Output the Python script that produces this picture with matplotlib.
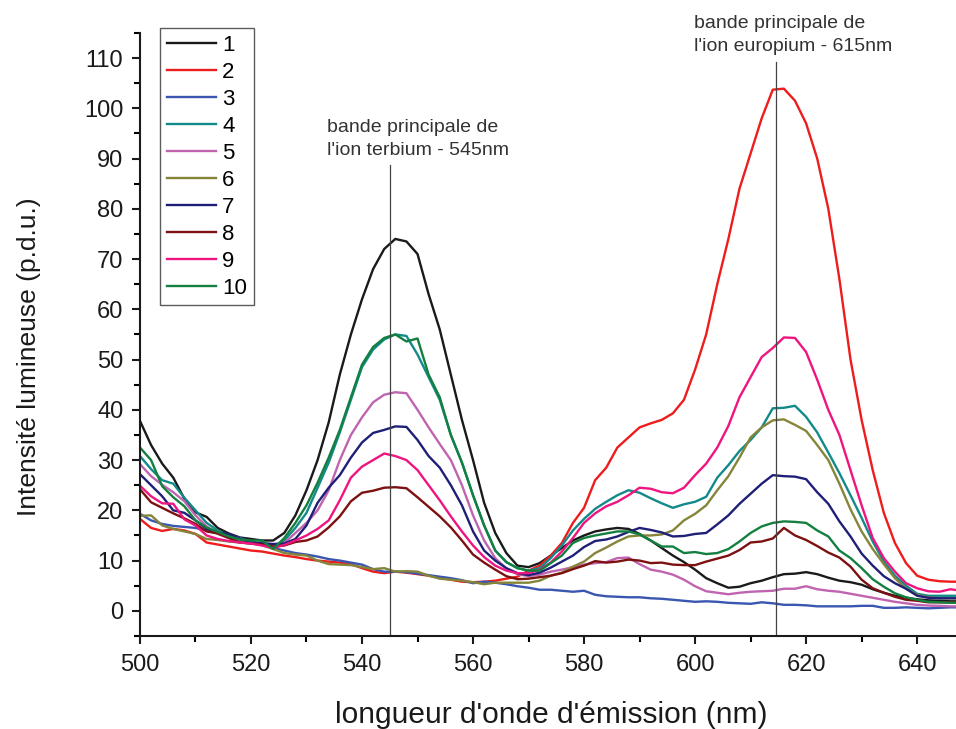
import numpy as np
import matplotlib
matplotlib.use('Agg')
import matplotlib.pyplot as plt
from matplotlib.ticker import MultipleLocator

plt.rcParams['font.family'] = ['Liberation Sans', 'DejaVu Sans']

# longueurs d'onde (nm), pas de 2 nm
wl = list(range(500, 650, 2))

s1 = [37.8, 33, 29.3, 26.5, 22.3, 19.6, 18.7, 16.5, 15.4, 14.6,
      14.3, 14.0, 14.0, 15.5, 19, 24, 30, 37.5, 47, 55,
      62, 68, 72, 74, 73.5, 71, 63, 56, 47, 38,
      30, 21.5, 15.5, 11.5, 9, 8.7, 9.5, 11, 12.5, 14,
      15, 15.8, 16.2, 16.5, 16.3, 15.3, 14, 12.5, 11, 9.7,
      8.2, 6.5, 5.5, 4.6, 4.8, 5.5, 6, 6.7, 7.3, 7.4,
      7.7, 7.3, 6.6, 6, 5.7, 5.2, 4.3, 3.6, 3, 2.6,
      2.3, 2.1, 2, 1.9, 1.9]
s2 = [18.3, 16.5, 15.9, 16.3, 16, 15.3, 13.6, 13.2, 12.8, 12.4,
      12, 11.8, 11.4, 11, 10.7, 10.3, 10, 9.8, 9.6, 9.3,
      8.5, 7.8, 7.5, 7.8, 7.6, 7.3, 7, 6.6, 6.2, 5.8,
      5.7, 5.8, 6, 6.4, 6.8, 8, 9, 11, 13.5, 17.5,
      20.5, 26, 28.5, 32.5, 34.5, 36.5, 37.3, 38, 39.3, 42,
      48, 55, 65, 74, 84, 91, 98, 103.7, 103.9, 101.5,
      97, 90, 80, 66, 50, 38, 28, 19.5, 13.5, 9.5,
      7, 6.2, 5.9, 5.8, 5.8]
s3 = [19.3, 18, 17.3, 16.9, 16.7, 16.5, 16, 15.5, 15, 14.5,
      13.8, 13.2, 12.5, 12, 11.5, 11.2, 10.8, 10.3, 10, 9.6,
      9.2, 8.3, 7.8, 7.8, 7.7, 7.4, 7.1, 6.8, 6.5, 6.1,
      5.5, 5.8, 5.6, 5.3, 4.9, 4.6, 4.2, 4.2, 4, 3.8,
      4, 3.2, 2.9, 2.8, 2.7, 2.7, 2.5, 2.4, 2.2, 2,
      1.8, 1.9, 1.8, 1.6, 1.5, 1.4, 1.7, 1.5, 1.2, 1.2,
      1.1, 0.9, 0.9, 0.9, 0.9, 1, 1, 0.6, 0.6, 0.7,
      0.6, 0.5, 0.6, 0.7, 0.7]
s4 = [30.8, 28.2, 26, 25.3, 22.5, 20, 17.5, 16, 15, 14.3,
      13.7, 13.3, 12.8, 14, 16.5, 19.5, 24.5, 29.5, 35.5, 42,
      48.5, 52, 54, 55, 54.7, 51, 46.5, 42, 35, 29.5,
      23, 17, 12, 9.7, 8.5, 8, 8.5, 10.5, 13, 16,
      18.3, 20.3, 21.7, 23, 24, 23.5, 22.4, 21.4, 20.5, 21.2,
      21.7, 22.7, 26.5, 29, 31.8, 34, 36.5, 40.3, 40.4, 40.8,
      38.6, 35.5, 31.5, 27.4, 23, 18.5, 13.8, 9.8, 7, 5,
      3.4, 3, 3, 3, 3]
s5 = [29.2, 26.8, 25.1, 23.6, 21.8, 19, 16.8, 15.3, 14.5, 14,
      13.5, 13.1, 12.8, 13.5, 15.5, 17.5, 20, 24, 30, 35,
      38.5, 41.5, 43, 43.5, 43.3, 40, 36.5, 33.2, 30, 25,
      19, 14, 10.5, 8.4, 7.3, 6.9, 7.2, 7.8, 8.2, 8.7,
      9.2, 9.5, 9.7, 10.5, 10.6, 9.3, 8.2, 7.8, 7.2, 6.2,
      4.9, 3.9, 3.6, 3.3, 3.6, 3.8, 3.9, 4, 4.4, 4.4,
      4.9, 4.3, 4, 3.8, 3.4, 3, 2.6, 2.2, 1.8, 1.5,
      1.2, 1.05, 1, 0.9, 0.9]
s6 = [18.9, 19, 17, 16.3, 15.8, 15.3, 14.3, 14.1, 13.8, 13.6,
      13.4, 13.1, 12.3, 11.5, 11.2, 11, 10, 9.3, 9.2, 9.1,
      8.7, 8.3, 8.5, 7.8, 7.9, 7.8, 7, 6.4, 6.2, 6,
      5.7, 5.3, 5.6, 5.6, 5.6, 5.6, 6, 7, 7.6, 8.8,
      9.8, 11.5, 12.6, 13.8, 14.8, 15, 15, 15.2, 16, 18,
      19.3, 21, 24, 26.8, 30.5, 34.5, 36.5, 37.9, 38.1, 37,
      35.8, 33, 30, 25.3, 20.2, 15.8, 12.3, 9.3, 6.5, 4.4,
      3.2, 2.7, 2.5, 2.5, 2.5]
s7 = [27.2, 25, 22.8, 20, 19.5, 18, 16.3, 15.6, 15.3, 14.3,
      13.6, 13.5, 13.3, 13.4, 14.3, 17, 21.5, 24.5, 27, 30.5,
      33.5, 35.4, 36, 36.7, 36.6, 34, 30.8, 28.5, 25, 21,
      15.8, 12, 10, 8.5, 7.5, 7.1, 7.6, 8.6, 9.8, 11,
      12.7, 13.9, 14.2, 14.8, 15.7, 16.5, 16.1, 15.6, 14.8, 14.9,
      15.3, 15.5, 17.2, 19, 21.3, 23.3, 25.3, 27, 26.8, 26.7,
      26.2, 23.6, 21.3, 17.8, 14.8, 11.4, 9, 6.9, 5.5, 4.4,
      3, 2.6, 2.5, 2.5, 2.5]
s8 = [24.2, 21.6, 20.5, 19.4, 18.4, 17.3, 15.8, 15.4, 14.5, 13.6,
      13.4, 13.2, 12.8, 13, 13.7, 14, 14.8, 16.6, 18.8, 21.8,
      23.5, 23.9, 24.5, 24.6, 24.4, 22.6, 20.7, 18.8, 16.6, 14,
      11.2, 9.6, 8.2, 6.9, 6.3, 6.4, 6.7, 7, 7.5, 8.3,
      9, 9.9, 9.6, 9.8, 10.2, 10, 9.5, 9.6, 9.2, 9.1,
      9.1, 9.8, 10.4, 11, 12.1, 13.6, 13.8, 14.4, 16.5, 15,
      14.1, 12.9, 11.6, 10.6, 8.8, 6.2, 4.5, 3.6, 2.8, 2.2,
      2, 1.7, 1.7, 1.7, 1.7]
s9 = [24.9, 22.8, 21.4, 21.3, 18.2, 17, 15, 14.3, 13.9, 13.6,
      13.4, 13, 12.5, 13.1, 14, 15, 16.3, 18, 22, 26.5,
      28.7, 30, 31.3, 30.8, 30, 28, 25, 22, 18.8, 15.8,
      13, 10.7, 9, 8, 7.5, 7.5, 8.2, 9.6, 11.8, 14.5,
      17.5, 19.4, 20.8, 21.7, 23, 24.5, 24.3, 23.6, 23.4, 24.5,
      27, 29.3, 32.5, 36.8, 42.5, 46.5, 50.5, 52.3, 54.4, 54.3,
      51.5, 46, 40, 35, 28, 21, 14.5, 10.5, 7.8, 5.5,
      4.5, 3.9, 3.8, 4.3, 4]
s10 = [32.5, 30, 24.8, 22.6, 20.8, 18, 16.6, 15.7, 14.8, 14.2,
       14, 14, 12.3, 14.5, 17.5, 21, 25.5, 30.5, 36, 42.5,
       49, 52.5, 54.3, 55, 53.6, 54.2, 47, 42.5, 35, 29.5,
       23, 17, 12, 9.7, 8.5, 8, 8, 9.5, 11, 13.5,
       14.5, 15, 15.4, 15.8, 15.8, 15.2, 14, 12.8, 12.8, 11.5,
       11.7, 11.3, 11.5, 12.3, 13.8, 15.5, 16.8, 17.5, 17.8, 17.7,
       17.5, 16, 14.8, 12, 10.5, 8.5, 6.3, 4.8, 3.5, 2.7,
       2.2, 1.8, 1.7, 1.6, 1.6]

series = [s1, s2, s3, s4, s5, s6, s7, s8, s9, s10]
labels = ['1', '2', '3', '4', '5', '6', '7', '8', '9', '10']
colors = ['#1a1a1a', '#ee1c1c', '#3a56b0', '#138a8a', '#c064b0',
          '#85853a', '#1f1f78', '#7d1010', '#ef1580', '#138040']

tb_line = 545.0
eu_line = 614.6

fig = plt.figure(figsize=(9.56, 7.29), dpi=100)
ax = fig.add_axes([0.1464, 0.1276, 0.871, 0.8273])

for s, lab, c in zip(series, labels, colors):
    ax.plot(wl, s, color=c, lw=1.7, label=lab)

ax.plot([tb_line, tb_line], [-5, 88.8], color='#444444', lw=0.9)
ax.plot([eu_line, eu_line], [-5, 109.2], color='#444444', lw=0.9)
ax.text(533.7, 90.0, "bande principale de\nl'ion terbium - 545nm",
        fontsize=14, color='#333333', va='bottom', ha='left', linespacing=1.45)
ax.text(599.8, 110.6, "bande principale de\nl'ion europium - 615nm",
        fontsize=14, color='#333333', va='bottom', ha='left', linespacing=1.45,
        clip_on=False)

ax.set_xlim(500, 650)
ax.set_ylim(-5, 115)
ax.xaxis.set_major_locator(MultipleLocator(20))
ax.xaxis.set_minor_locator(MultipleLocator(10))
ax.yaxis.set_major_locator(MultipleLocator(10))
ax.yaxis.set_minor_locator(MultipleLocator(5))
ax.set_yticks(range(0, 111, 10))
ax.tick_params(which='major', direction='out', length=6, width=1.5,
               labelsize=17, colors='#1a1a1a')
ax.tick_params(axis='x', which='major', pad=7)
ax.tick_params(axis='y', which='major', pad=6)
ax.tick_params(which='minor', direction='out', length=4, width=1.5)
for sp in ['top', 'right']:
    ax.spines[sp].set_visible(False)
for sp in ['left', 'bottom']:
    ax.spines[sp].set_linewidth(1.5)
    ax.spines[sp].set_color('#1a1a1a')

ax.set_xlabel("longueur d'onde d'émission (nm)", fontsize=21.5, color='#1a1a1a')
ax.set_ylabel("Intensité lumineuse (p.d.u.)", fontsize=19, color='#1a1a1a')
ax.xaxis.set_label_coords(0.494, -0.108)
ax.yaxis.set_label_coords(-0.119, 0.463)

leg = ax.legend(loc='upper left', bbox_to_anchor=(160 / 956, 1 - 28 / 729),
                bbox_transform=fig.transFigure, borderaxespad=0,
                fontsize=16, frameon=True, fancybox=False,
                handlelength=2.2, labelspacing=0.27, handletextpad=0.3,
                borderpad=0.3)
leg.get_frame().set_edgecolor('#333333')
leg.get_frame().set_linewidth(1.0)

fig.savefig('out.png', dpi=100)
